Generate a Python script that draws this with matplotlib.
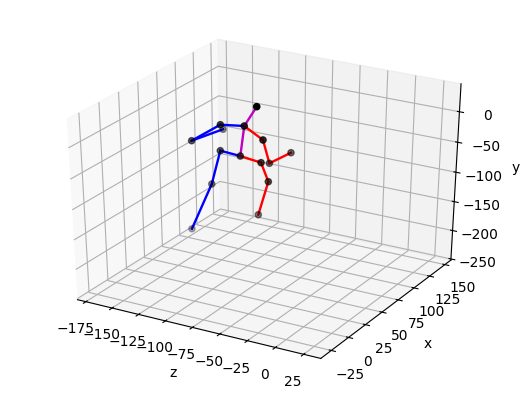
import numpy as np
import matplotlib
matplotlib.use('Agg')
import matplotlib.pyplot as plt
from mpl_toolkits.mplot3d import Axes3D

# joints: pelvis, left leg (3), right leg (3), thorax, head, left arm (3), right arm (3)
z = [-89.6, -107.9, -116.3, -128.9, -70.8, -64.2, -73.4, -85.8, -68.1, -107.5, -130.8, -125.4, -69.0, -76.1, -62.8]
x = [50.0, 50.0, 50.0, 39.9, 50.0, 50.0, 50.0, 50.0, 40.1, 50.0, 45.0, 80.1, 50.0, 70.0, 80.0]
y = [-42.4, -40.4, -98.5, -171.5, -46.3, -74.9, -133.3, 7.4, 50.8, 1.8, -28.9, -32.5, -9.0, -63.6, -48.4]

# bones as joint index pairs
blue_bones = [(0, 1), (1, 2), (2, 3), (7, 9), (9, 10), (10, 11)]
red_bones = [(0, 4), (4, 5), (5, 6), (7, 12), (12, 13), (13, 14)]
magenta_bones = [(0, 7), (7, 8)]

fig = plt.figure(figsize=(5.23, 3.96), dpi=100)
ax = fig.add_axes([25/523, 1-370.5/396, 472/523, 346/396], projection='3d')
ax.set_box_aspect((1, 1, 1))
# stretch the cube to the whole axes rectangle
ax.apply_aspect = lambda position=None: None

ax.scatter(z, x, y, c='k', s=20)
for bones, col in [(blue_bones, 'b'), (red_bones, 'r'), (magenta_bones, 'm')]:
    for a, b in bones:
        ax.plot([z[a], z[b]], [x[a], x[b]], [y[a], y[b]], color=col, lw=1.7)

ax.set_xlim(-183, 40)
ax.set_ylim(-40, 160)
ax.set_zlim(-252, 45)
ax.set_xlabel('z')
ax.set_ylabel('x')
ax.set_zlabel('y')

fig.savefig('out.png', dpi=100)
